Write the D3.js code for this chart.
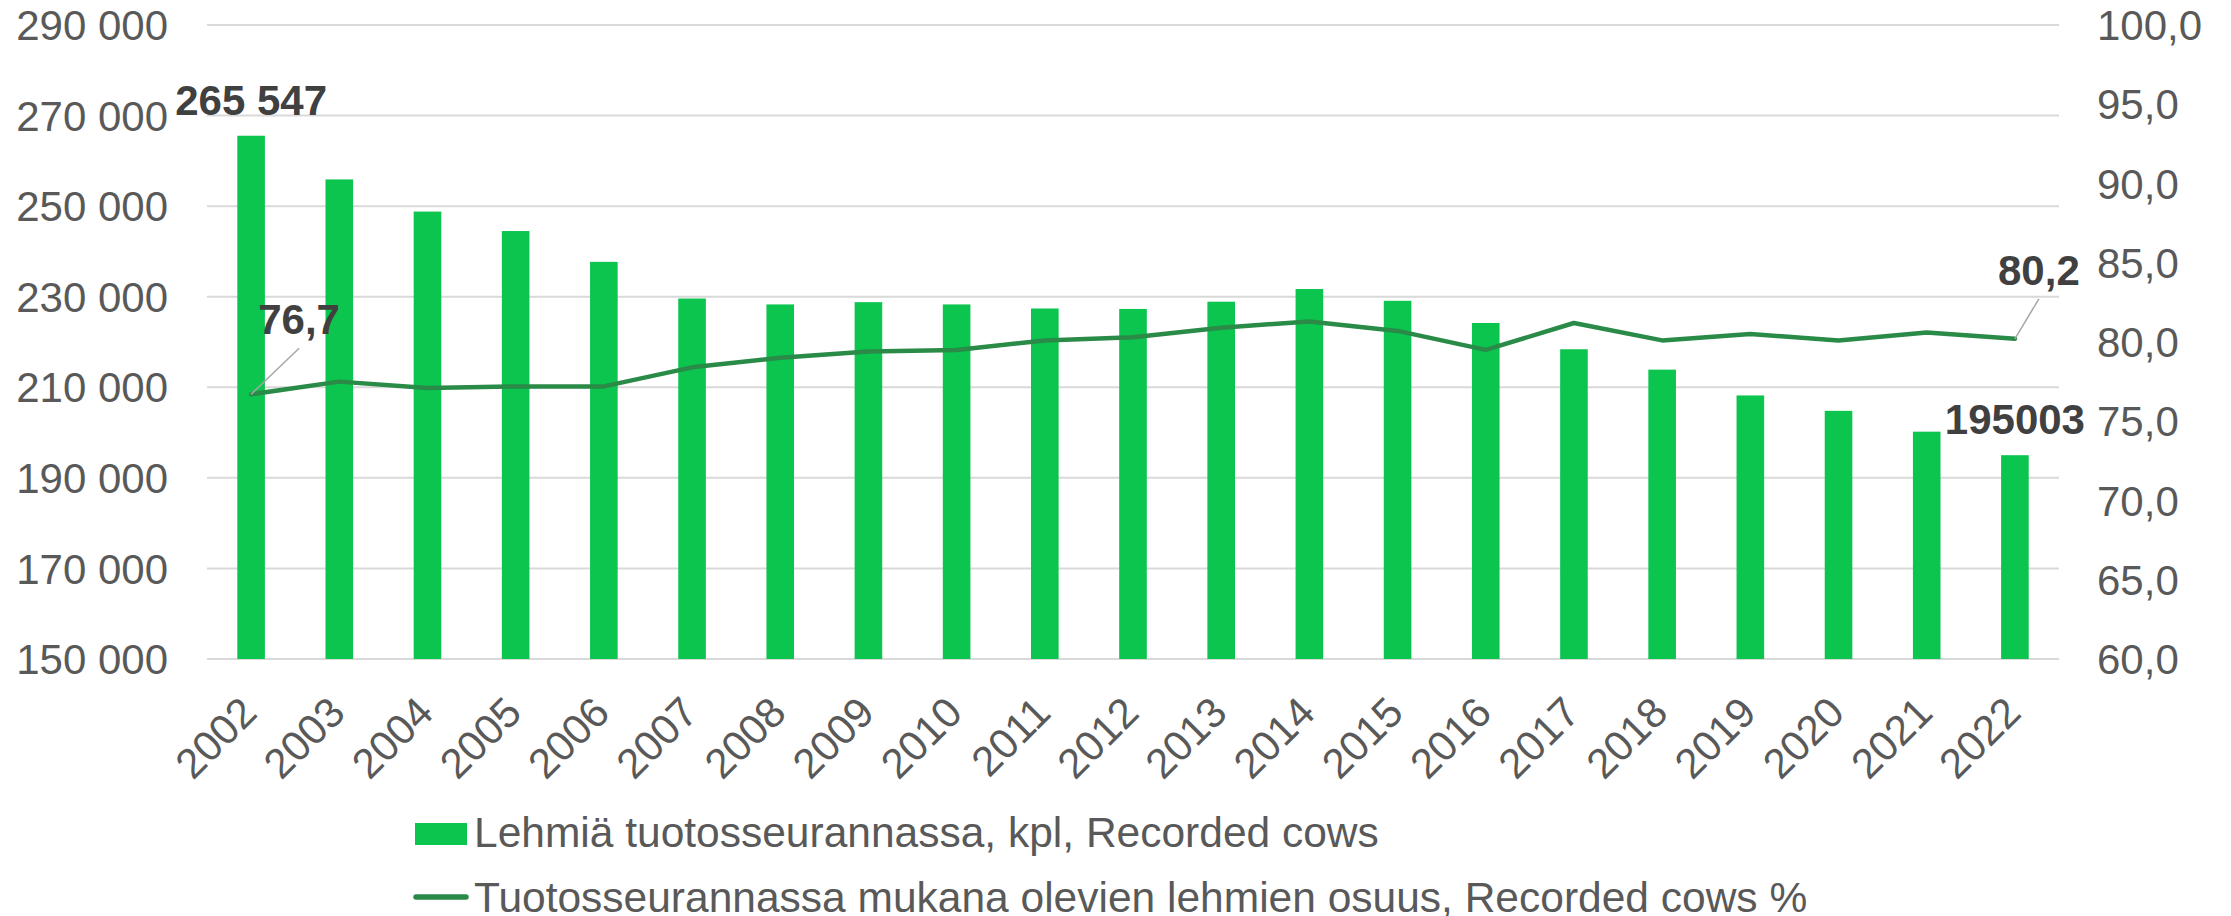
<!DOCTYPE html>
<html>
<head>
<meta charset="utf-8">
<script src="https://cdn.jsdelivr.net/npm/d3@7"></script>
<style>
    html, body { margin: 0; padding: 0; background: #fff; }
    svg { display: block; font-family: "Liberation Sans", Arial, sans-serif; }
    .tick-label { fill: #595959; font-size: 42px; }
    .data-label { fill: #404040; font-size: 42px; font-weight: bold; }
    .legend-text { fill: #595959; font-size: 42.5px; }
</style>
</head>
<body>
<svg id="chart" width="2231" height="916"></svg>
<script>
var years = ['2002', '2003', '2004', '2005', '2006', '2007', '2008', '2009', '2010', '2011', '2012',
    '2013', '2014', '2015', '2016', '2017', '2018', '2019', '2020', '2021', '2022'];
var recordedCows = [265547, 255900, 248800, 244500, 237700, 229600, 228300, 228800, 228300, 227400, 227300,
    228900, 231700, 229100, 224200, 218400, 213900, 208200, 204800, 200200, 195003];
var recordedPct = [76.7, 77.5, 77.1, 77.2, 77.2, 78.4, 79.0, 79.4, 79.5, 80.1, 80.3,
    80.9, 81.3, 80.7, 79.5, 81.2, 80.1, 80.5, 80.1, 80.6, 80.2];
var leftTicks = [150000, 170000, 190000, 210000, 230000, 250000, 270000, 290000];
var rightTicks = [60, 65, 70, 75, 80, 85, 90, 95, 100];
var barLabels = [{ i: 0, text: '265 547' }, { i: 20, text: '195003' }];
var lineLabels = [{ i: 0, text: '76,7', dx: 48, dy: -60 }, { i: 20, text: '80,2', dx: 24, dy: -54 }];
var legendNames = ['Lehmiä tuotosseurannassa, kpl, Recorded cows',
    'Tuotosseurannassa mukana olevien lehmien osuus, Recorded cows %'];

var barColor = '#0bc54f';
var lineColor = '#2a8a47';

var svg = d3.select('#chart');
var plotLeft = 207, plotRight = 2059, plotTop = 25, plotBottom = 659;

var fi = d3.formatLocale({ decimal: ',', thousands: '\u00a0', grouping: [3], currency: ['', ' €'] });
var fmtLeft = fi.format(',d');
var fmtRight = fi.format('.1f');

var xScale = d3.scaleBand().domain(years).range([plotLeft, plotRight]).paddingInner(0.687).paddingOuter(0.3435);
var yLeft = d3.scaleLinear().domain([150000, 290000]).range([plotBottom, plotTop]);
var yRight = d3.scaleLinear().domain([60, 100]).range([plotBottom, plotTop]);

// gridlines
svg.append('g')
    .selectAll('line')
    .data(leftTicks)
    .enter()
    .append('line')
    .attr('x1', plotLeft)
    .attr('x2', plotRight)
    .attr('y1', function (d) { return yLeft(d); })
    .attr('y2', function (d) { return yLeft(d); })
    .attr('stroke', '#d9d9d9')
    .attr('stroke-width', 2);

// left axis
var yAxisLeft = d3.axisLeft(yLeft).tickValues(leftTicks).tickFormat(fmtLeft).tickSize(0).tickPadding(39);
var gl = svg.append('g').attr('transform', 'translate(' + plotLeft + ',0)').call(yAxisLeft);
gl.select('.domain').remove();
gl.attr('font-size', null).attr('font-family', null);
gl.selectAll('text').attr('class', 'tick-label').attr('fill', null).attr('dy', '0.35em');

// right axis
var yAxisRight = d3.axisRight(yRight).tickValues(rightTicks).tickFormat(fmtRight).tickSize(0).tickPadding(38);
var gr = svg.append('g').attr('transform', 'translate(' + plotRight + ',0)').call(yAxisRight);
gr.select('.domain').remove();
gr.attr('font-size', null).attr('font-family', null);
gr.selectAll('text').attr('class', 'tick-label').attr('fill', null).attr('dy', '0.35em');

// x labels
svg.append('g')
    .selectAll('text')
    .data(years)
    .enter()
    .append('text')
    .attr('class', 'tick-label')
    .attr('text-anchor', 'end')
    .attr('transform', function (d) {
        return 'translate(' + (xScale(d) + xScale.bandwidth() / 2 + 8) + ',' + (plotBottom + 56) + ') rotate(-45)';
    })
    .text(function (d) { return d; });

// bars
svg.append('g')
    .selectAll('rect')
    .data(recordedCows)
    .enter()
    .append('rect')
    .attr('x', function (d, i) { return xScale(years[i]); })
    .attr('y', function (d) { return yLeft(d); })
    .attr('width', xScale.bandwidth())
    .attr('height', function (d) { return plotBottom - yLeft(d); })
    .attr('fill', barColor);

// line
var cx = function (i) { return xScale(years[i]) + xScale.bandwidth() / 2; };
var line = d3.line()
    .x(function (d, i) { return cx(i); })
    .y(function (d) { return yRight(d); });
svg.append('path')
    .attr('d', line(recordedPct))
    .attr('fill', 'none')
    .attr('stroke', lineColor)
    .attr('stroke-width', 4.5)
    .attr('stroke-linejoin', 'round')
    .attr('stroke-linecap', 'round');

// bar labels
barLabels.forEach(function (b) {
    svg.append('text')
        .attr('class', 'data-label')
        .attr('text-anchor', 'middle')
        .attr('x', cx(b.i))
        .attr('y', yLeft(recordedCows[b.i]) - 21)
        .text(b.text);
});

// line labels with leader lines
lineLabels.forEach(function (l) {
    var px = cx(l.i), py = yRight(recordedPct[l.i]);
    svg.append('line')
        .attr('x1', px)
        .attr('y1', py)
        .attr('x2', px + l.dx)
        .attr('y2', py + l.dy + 14)
        .attr('stroke', '#a6a6a6')
        .attr('stroke-width', 1.5);
    svg.append('text')
        .attr('class', 'data-label')
        .attr('text-anchor', 'middle')
        .attr('x', px + l.dx)
        .attr('y', py + l.dy)
        .text(l.text);
});

// legend
var lg = svg.append('g');
lg.append('rect')
    .attr('x', 415)
    .attr('y', 823)
    .attr('width', 52)
    .attr('height', 22)
    .attr('fill', barColor);
lg.append('text')
    .attr('class', 'legend-text')
    .attr('x', 474)
    .attr('y', 847)
    .text(legendNames[0]);
lg.append('line')
    .attr('x1', 416)
    .attr('x2', 466)
    .attr('y1', 897)
    .attr('y2', 897)
    .attr('stroke', lineColor)
    .attr('stroke-width', 5.5)
    .attr('stroke-linecap', 'round');
lg.append('text')
    .attr('class', 'legend-text')
    .attr('x', 474)
    .attr('y', 912)
    .text(legendNames[1]);
</script>
</body>
</html>
